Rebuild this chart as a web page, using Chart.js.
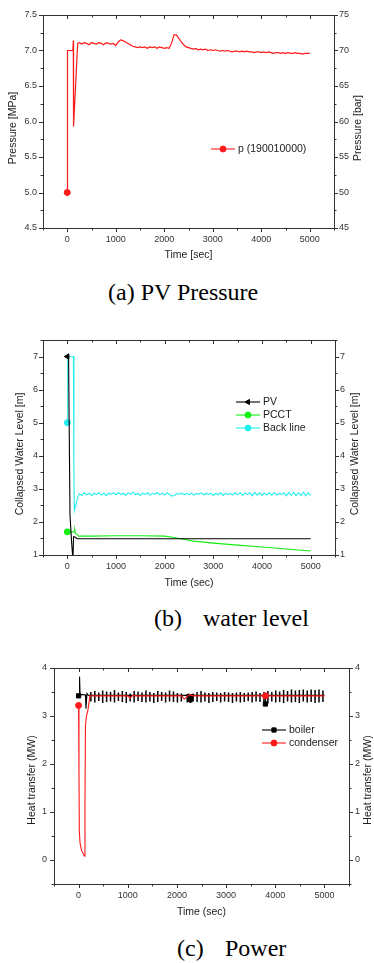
<!DOCTYPE html>
<html>
<head>
<meta charset="utf-8">
<script src="https://cdn.jsdelivr.net/npm/chart.js@4"></script>
<style>
  body { margin: 0; background: #fff; }
  #page { position: relative; width: 374px; height: 963px; overflow: hidden; }
  canvas { position: absolute; left: 0; }
  .cap { position: absolute; font-family: "Liberation Serif", "Times New Roman", serif; font-size: 24px; line-height: 24px; color: #000; white-space: pre; }
</style>
</head>
<body>
<div id="page">
  <canvas id="chartA" width="374" height="268" style="top:0"></canvas>
  <div class="cap" style="left:108px;top:280px">(a) PV Pressure</div>
  <canvas id="chartB" width="374" height="275" style="top:320px"></canvas>
  <div class="cap" style="left:154px;top:606px">(b)</div>
  <div class="cap" style="left:203px;top:606px">water level</div>
  <canvas id="chartC" width="374" height="284" style="top:640px"></canvas>
  <div class="cap" style="left:177px;top:936px">(c)</div>
  <div class="cap" style="left:225px;top:936px">Power</div>
</div>
<script>
// tick labels
const timeTicks = [0, 1000, 2000, 3000, 4000, 5000];
const pressureTicks = [4.5, 5.0, 5.5, 6.0, 6.5, 7.0, 7.5];
const barTicks = [45, 50, 55, 60, 65, 70, 75];
const levelTicks = [1, 2, 3, 4, 5, 6, 7];
const powerTicks = [0, 1, 2, 3, 4];

// shared sample times of the noisy parts (sec)
const gridTime = [250, 300, 350, 400, 450, 500, 550, 600, 650, 700, 750, 800, 850, 900, 950, 1000,
  1050, 1100, 1150, 1200, 1250, 1300, 1350, 1400, 1450, 1500, 1550, 1600, 1650, 1700, 1750, 1800, 1850, 1900, 1950, 2000,
  2050, 2100, 2150, 2200, 2250, 2300, 2350, 2400, 2450, 2500, 2550, 2600, 2650, 2700, 2750, 2800, 2850, 2900, 2950, 3000,
  3050, 3100, 3150, 3200, 3250, 3300, 3350, 3400, 3450, 3500, 3550, 3600, 3650, 3700, 3750, 3800, 3850, 3900, 3950, 4000,
  4050, 4100, 4150, 4200, 4250, 4300, 4350, 4400, 4450, 4500, 4550, 4600, 4650, 4700, 4750, 4800, 4850, 4900, 4950, 5000];

// (a) PV pressure [MPa]
const pressureTime = [0, 5, 115, 125, 130, 215].concat(gridTime);
const pressureValues = [5.0, 7.0, 7.0, 7.14, 5.93, 7.10,
  7.11, 7.09, 7.11, 7.10, 7.08, 7.11, 7.10, 7.09, 7.11, 7.10, 7.08, 7.11, 7.10, 7.09, 7.10, 7.07,
  7.12, 7.15, 7.14, 7.12, 7.10, 7.08, 7.06, 7.05, 7.04, 7.05, 7.04, 7.05, 7.03, 7.05, 7.04, 7.05, 7.03, 7.05, 7.04, 7.03,
  7.04, 7.03, 7.10, 7.22, 7.22, 7.17, 7.12, 7.08, 7.05, 7.04, 7.03, 7.02, 7.03, 7.01, 7.02, 7.01, 7.02, 7.00, 7.01, 7.00,
  7.01, 7.00, 6.99, 7.00, 6.99, 7.00, 6.99, 6.98, 6.99, 6.99, 6.98, 6.99, 6.98, 6.99, 6.98, 6.98, 6.97, 6.98, 6.98, 6.97,
  6.98, 6.97, 6.98, 6.97, 6.96, 6.97, 6.97, 6.96, 6.97, 6.96, 6.97, 6.96, 6.96, 6.97, 6.96, 6.96, 6.95, 6.96, 6.96, 6.96];
const pressureMarks = [0];

// (b) collapsed water level [m]
const pvTime = [0, 25, 40, 55, 85, 115, 128, 150, 200, 1000, 2000, 3000, 4000, 5000];
const pvValues = [7.0, 7.06, 4.6, 2.2, 1.45, 0.85, 1.55, 1.55, 1.49, 1.49, 1.49, 1.49, 1.49, 1.49];
const pcctTime = [0, 140, 150, 170, 200, 230, 500, 1000, 1500, 2000, 2100, 2300, 2600, 3000, 3500, 4000, 4500, 5000];
const pcctValues = [1.7, 1.7, 1.78, 1.65, 1.62, 1.57, 1.57, 1.58, 1.58, 1.57, 1.55, 1.5, 1.42, 1.36, 1.3, 1.24, 1.18, 1.12];
const backTime = [0, 8, 125, 135, 145, 190, 220].concat(gridTime);
const backValues = [5.0, 7.0, 7.0, 3.5, 2.35, 2.6, 2.78,
  2.85, 2.80, 2.88, 2.82, 2.87, 2.80, 2.86, 2.83, 2.88, 2.81, 2.86, 2.80, 2.87, 2.84, 2.88, 2.82,
  2.89, 2.83, 2.87, 2.80, 2.88, 2.84, 2.90, 2.82, 2.86, 2.80, 2.87, 2.83, 2.88, 2.81, 2.86, 2.84, 2.89, 2.82, 2.87, 2.81,
  2.88, 2.83, 2.78, 2.80, 2.85, 2.84, 2.87, 2.82, 2.86, 2.83, 2.87, 2.81, 2.86, 2.84, 2.88, 2.82, 2.86, 2.83, 2.87, 2.80,
  2.86, 2.82, 2.88, 2.80, 2.87, 2.83, 2.86, 2.81, 2.88, 2.82, 2.89, 2.80, 2.87, 2.83, 2.88, 2.79, 2.89, 2.81, 2.88, 2.80,
  2.87, 2.82, 2.88, 2.80, 2.89, 2.81, 2.86, 2.83, 2.88, 2.79, 2.89, 2.80, 2.90, 2.79, 2.88, 2.80, 2.90, 2.79, 2.88, 2.80];
const levelMarks = [0];

// (c) heat transfer [MW]
const boilerTime = [0, 15, 20, 30, 140, 150, 170, 200, 3795, 3800, 3805, 5000];
const boilerValues = [3.42, 3.42, 3.82, 3.45, 3.44, 3.15, 3.47, 3.43, 3.43, 3.25, 3.43, 3.43];
// boiler oscillation: low / high of each spike
const spikeTime = [250, 330, 410, 490, 570, 650, 730, 810, 890, 970, 1050, 1130, 1210, 1290, 1370, 1450, 1530, 1610, 1690, 1770, 1850, 1930, 2010, 2090,
  2210, 2240, 2270, 2300, 2330,
  2410, 2490, 2570, 2650, 2730, 2810, 2890, 2970, 3050, 3130, 3210, 3290, 3370, 3450, 3530, 3610, 3690, 3770, 3850, 3930, 4010, 4090,
  4170, 4250, 4330, 4410, 4490, 4570, 4650, 4730, 4810, 4890, 4970];
const spikeLow = [3.30, 3.28, 3.31, 3.27, 3.29, 3.30, 3.28, 3.31, 3.29, 3.27, 3.30, 3.28, 3.31, 3.29, 3.28, 3.30, 3.27, 3.29, 3.31, 3.28, 3.30, 3.29, 3.28, 3.30,
  3.28, 3.29, 3.27, 3.28, 3.30,
  3.29, 3.28, 3.30, 3.27, 3.29, 3.31, 3.28, 3.30, 3.29, 3.27, 3.30, 3.28, 3.29, 3.31, 3.28, 3.30, 3.29, 3.28, 3.26, 3.30, 3.28, 3.29,
  3.27, 3.30, 3.28, 3.29, 3.27, 3.30, 3.28, 3.29, 3.27, 3.28, 3.29];
const spikeHigh = [3.50, 3.52, 3.49, 3.53, 3.51, 3.50, 3.54, 3.49, 3.52, 3.50, 3.47, 3.52, 3.51, 3.49, 3.53, 3.50, 3.48, 3.52, 3.50, 3.49, 3.53, 3.51, 3.48, 3.47,
  3.46, 3.47, 3.45, 3.46, 3.47,
  3.50, 3.52, 3.49, 3.48, 3.50, 3.49, 3.48, 3.50, 3.49, 3.48, 3.49, 3.50, 3.48, 3.49, 3.50, 3.51, 3.48, 3.50, 3.52, 3.50, 3.53, 3.51,
  3.54, 3.52, 3.55, 3.53, 3.54, 3.55, 3.53, 3.55, 3.54, 3.55, 3.53];
const condenserTime = [0, 8, 15, 30, 60, 100, 120, 130, 140, 160, 190, 230, 1000, 1050, 1100, 1150, 2100, 2150, 2200, 2250, 2300, 2350, 3800, 5000];
const condenserValues = [3.22, 1.8, 0.6, 0.35, 0.2, 0.12, 0.08, 1.2, 2.8, 3.0, 3.12, 3.42, 3.42, 3.37, 3.43, 3.42, 3.42, 3.35, 3.40, 3.44, 3.43, 3.42, 3.42, 3.42];
const powerMarks = [0, 3800];

const FONT = '"Liberation Sans", Arial, sans-serif';

function pts(times, values) {
  return times.map((t, i) => ({x: t, y: values[i]}));
}

// vertical strokes low..high, separated by gaps
function strokes(times, lows, highs) {
  const out = [];
  times.forEach((t, i) => {
    out.push({x: t, y: lows[i]}, {x: t, y: highs[i]}, {x: t, y: null});
  });
  return out;
}

function series(label, times, values, color, style, marks, extra) {
  return Object.assign({
    label: label,
    data: pts(times, values),
    borderColor: color,
    backgroundColor: color,
    pointBackgroundColor: color,
    pointBorderColor: color,
    borderWidth: 1.1,
    tension: 0,
    pointStyle: style,
    pointRadius: c => marks.includes(c.raw.x) ? 3 : 0,
    pointBorderWidth: 1
  }, extra || {});
}

function axis(pos, min, max, ticks, size, pad, fmt) {
  return {
    type: 'linear', position: pos, min: min, max: max,
    grid: {display: false, drawTicks: false},
    border: {display: false},
    afterBuildTicks: s => { s.ticks = ticks.map(v => ({value: v})); },
    afterFit: s => { if (s.isHorizontal()) s.height = size; else s.width = size; },
    ticks: {
      padding: pad, color: '#333', autoSkip: false, maxRotation: 0,
      font: {family: FONT, size: 9},
      callback: fmt || (v => String(v))
    }
  };
}

// box with ticks on all four sides
const framePlugin = {
  id: 'frame',
  afterDraw(chart, args, o) {
    const {ctx, chartArea: a, scales} = chart;
    ctx.save();
    ctx.strokeStyle = '#333';
    ctx.lineWidth = 1;
    ctx.strokeRect(Math.round(a.left) + 0.5, Math.round(a.top) + 0.5, Math.round(a.right - a.left), Math.round(a.bottom - a.top));
    const marks = (scale, minor) => {
      const out = scale.ticks.map(t => [t.value, 4]);
      for (let v = scale.min; v <= scale.max + 1e-9; v += minor) {
        if (!out.some(m => Math.abs(m[0] - v) < 1e-9)) out.push([v, 2.5]);
      }
      return out;
    };
    ctx.beginPath();
    marks(scales.x, o.x).forEach(([v, len]) => {
      const p = Math.round(scales.x.getPixelForValue(v)) + 0.5;
      ctx.moveTo(p, a.bottom); ctx.lineTo(p, a.bottom + len);
      ctx.moveTo(p, a.top); ctx.lineTo(p, a.top + len);
    });
    marks(scales.y, o.y).forEach(([v, len]) => {
      const p = Math.round(scales.y.getPixelForValue(v)) + 0.5;
      ctx.moveTo(a.left, p); ctx.lineTo(a.left - len, p);
    });
    marks(scales.y2, o.y2).forEach(([v, len]) => {
      const p = Math.round(scales.y2.getPixelForValue(v)) + 0.5;
      ctx.moveTo(a.right, p); ctx.lineTo(a.right + len, p);
    });
    ctx.stroke();
    ctx.restore();
  }
};

// axis titles, both vertical ones read bottom to top
const titlesPlugin = {
  id: 'titles',
  afterDraw(chart, args, o) {
    const {ctx, chartArea: a} = chart;
    ctx.save();
    ctx.fillStyle = '#222';
    ctx.font = '10.5px ' + FONT;
    ctx.textAlign = 'center';
    ctx.textBaseline = 'middle';
    ctx.fillText(o.bottom.text, (a.left + a.right) / 2, o.bottom.y);
    [o.left, o.right].forEach(t => {
      ctx.save();
      ctx.translate(t.x, t.y);
      ctx.rotate(-Math.PI / 2);
      ctx.fillText(t.text, 0, 0);
      ctx.restore();
    });
    ctx.restore();
  }
};

// legend drawn inside the plot, line + marker + text
const boxLegendPlugin = {
  id: 'boxLegend',
  afterDraw(chart, args, o) {
    const ctx = chart.ctx;
    ctx.save();
    ctx.font = '10.5px ' + FONT;
    ctx.textBaseline = 'middle';
    chart.data.datasets.filter(ds => !ds.noLegend).forEach((ds, i) => {
      const y = o.y + i * o.gap;
      ctx.strokeStyle = ds.borderColor;
      ctx.fillStyle = ds.borderColor;
      ctx.lineWidth = 1.1;
      ctx.beginPath();
      ctx.moveTo(o.x, y); ctx.lineTo(o.x + 24, y);
      ctx.stroke();
      ctx.lineWidth = 1;
      Chart.helpers.drawPoint(ctx, {pointStyle: ds.pointStyle, rotation: ds.pointRotation || 0, radius: 3, borderWidth: 1}, o.x + 12, y);
      ctx.fillStyle = '#222';
      ctx.fillText(ds.label, o.x + 27, y + 0.5);
    });
    ctx.restore();
  }
};

function makeChart(id, datasets, scales, padTop, plugins) {
  return new Chart(document.getElementById(id), {
    type: 'line',
    data: {datasets: datasets},
    options: {
      responsive: false,
      animation: false,
      events: [],
      layout: {padding: {top: padTop, left: 0, right: 0, bottom: 0}},
      scales: scales,
      plugins: Object.assign({legend: {display: false}, tooltip: {enabled: false}}, plugins)
    },
    plugins: [framePlugin, titlesPlugin, boxLegendPlugin]
  });
}

makeChart('chartA',
  [series('p (190010000)', pressureTime, pressureValues, '#ff1a1a', 'circle', pressureMarks, {borderWidth: 1.2})],
  {
    x: axis('bottom', -500, 5500, timeTicks, 40, 6),
    y: axis('left', 4.5, 7.5, pressureTicks, 43, 6, v => v.toFixed(1)),
    y2: axis('right', 45, 75, barTicks, 40, 5)
  },
  15,
  {
    frame: {x: 500, y: 0.25, y2: 2.5},
    titles: {bottom: {text: 'Time [sec]', y: 255}, left: {text: 'Pressure [MPa]', x: 13, y: 128}, right: {text: 'Pressure [bar]', x: 358, y: 128}},
    boxLegend: {x: 211, y: 149, gap: 13}
  });

makeChart('chartB',
  [
    series('PV', pvTime, pvValues, '#000000', 'triangle', levelMarks, {pointRotation: -90}),
    series('PCCT', pcctTime, pcctValues, '#11ee11', 'circle', levelMarks),
    series('Back line', backTime, backValues, '#22eeee', 'circle', levelMarks)
  ],
  {
    x: axis('bottom', -500, 5500, timeTicks, 40, 6),
    y: axis('left', 1, 7.5, levelTicks, 43, 5),
    y2: axis('right', 1, 7.5, levelTicks, 39, 5)
  },
  20,
  {
    frame: {x: 500, y: 0.5, y2: 0.5},
    titles: {bottom: {text: 'Time (sec)', y: 263}, left: {text: 'Collapsed Water Level [m]', x: 20, y: 134}, right: {text: 'Collapsed Water Level [m]', x: 355, y: 134}},
    boxLegend: {x: 236, y: 82, gap: 13}
  });

makeChart('chartC',
  [
    series('boiler', boilerTime, boilerValues, '#000000', 'rect', powerMarks, {order: 2}),
    series('condenser', condenserTime, condenserValues, '#ff1a1a', 'circle', powerMarks, {order: 1}),
    {label: 'boiler spikes', noLegend: true, data: strokes(spikeTime, spikeLow, spikeHigh), borderColor: '#000000',
      borderWidth: 1.5, pointRadius: 0, spanGaps: false, order: 3}
  ],
  {
    x: axis('bottom', -500, 5500, timeTicks, 40, 6),
    y: axis('left', -0.5, 4, powerTicks, 54, 7),
    y2: axis('right', -0.5, 4, powerTicks, 25, 6)
  },
  28,
  {
    frame: {x: 500, y: 0.5, y2: 0.5},
    titles: {bottom: {text: 'Time (sec)', y: 272}, left: {text: 'Heat transfer (MW)', x: 32, y: 140}, right: {text: 'Heat transfer (MW)', x: 368, y: 140}},
    boxLegend: {x: 262, y: 90, gap: 13}
  });
</script>
</body>
</html>
